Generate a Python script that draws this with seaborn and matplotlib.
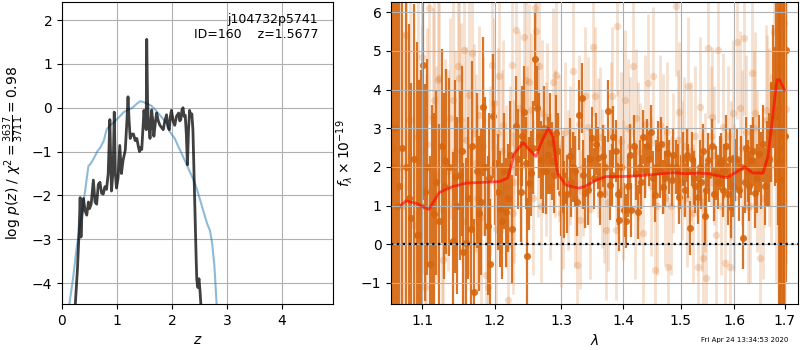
import numpy as np
import pandas as pd
import matplotlib
matplotlib.use('Agg')
import matplotlib.pyplot as plt
import seaborn as sns
from matplotlib.ticker import FixedLocator, FixedFormatter, NullLocator

# -----------------------------
# p(z) panel data
# -----------------------------
z_fit = [0.236, 0.28, 0.31, 0.33, 0.345, 0.36, 0.39, 0.42, 0.45, 0.48, 0.50, 0.53,
         0.57, 0.60, 0.63, 0.66, 0.69, 0.72, 0.75, 0.78, 0.81, 0.84, 0.87, 0.885,
         0.90, 0.93, 0.95, 0.97, 0.99, 1.02, 1.05, 1.08, 1.11, 1.15, 1.18, 1.20,
         1.22, 1.24, 1.27, 1.30, 1.33, 1.36, 1.39, 1.41, 1.43, 1.45, 1.47, 1.49,
         1.51, 1.53, 1.54, 1.555, 1.57, 1.60, 1.63, 1.65, 1.67, 1.70, 1.72, 1.75,
         1.78, 1.81, 1.84, 1.87, 1.90, 1.93, 1.95, 1.97, 1.99, 2.02, 2.05, 2.08,
         2.12, 2.14, 2.16, 2.18, 2.20, 2.22, 2.24, 2.26, 2.28, 2.30, 2.32, 2.34,
         2.36, 2.38, 2.40, 2.42, 2.44, 2.45, 2.47, 2.49, 2.51, 2.53]
logpz_fit = [-4.6, -3.7, -2.85, -2.05, -2.95, -2.5, -2.07, -2.35, -2.45, -2.15, -2.3, -2.2,
             -1.65, -2.15, -2.2, -1.75, -1.7, -1.95, -1.97, -1.8, -1.86, -1.5, -0.27, -1.2,
             -1.9, -1.4, -0.1, -1.5, -1.83, -1.6, -0.86, -1.5, -1.2, -0.97, -0.3, 0.25,
             -0.3, -0.7, -0.6, -0.6, -0.75, -0.7, -0.9, -1.0, -0.9, -0.95, -0.5, -0.06,
             -0.3, -0.5, 1.56, 0.16, -0.3, -0.7, -0.05, -0.3, -0.65, -0.3, -0.12, -0.3,
             -0.4, -0.45, -0.5, -0.3, -0.16, -0.45, -0.5, -0.2, -0.06, -0.3, -0.4, -0.2,
             -0.12, -0.3, -0.27, -0.05, 0.0, -0.2, -0.17, -0.6, -1.3, -0.5, -0.06, -0.2,
             -0.14, -0.5, -1.5, -2.5, -3.5, -3.92, -4.1, -3.9, -4.2, -4.6]

z_prior = [0.12, 0.20, 0.27, 0.35, 0.42, 0.48, 0.52, 0.58, 0.64, 0.70, 0.76, 0.81,
           0.87, 0.93, 0.99, 1.05, 1.12, 1.20, 1.28, 1.35, 1.42, 1.48, 1.55, 1.62,
           1.70, 1.80, 1.90, 1.96, 2.05, 2.12, 2.17, 2.25, 2.32, 2.39, 2.45, 2.51,
           2.58, 2.64, 2.69, 2.73, 2.77, 2.81, 2.84]
logpz_prior = [-4.6, -3.9, -3.16, -2.5, -1.9, -1.33, -1.28, -1.15, -1.0, -0.9, -0.75, -0.5,
               -0.4, -0.35, -0.27, -0.2, -0.1, -0.05, 0.0, 0.08, 0.15, 0.13, 0.09, 0.05,
               -0.05, -0.2, -0.35, -0.55, -0.7, -0.9, -1.03, -1.25, -1.45, -1.64, -1.85, -2.1,
               -2.4, -2.65, -2.8, -3.1, -3.6, -4.47, -4.9]

z_ticks = [0, 1, 2, 3, 4]
pz_ticks = [-4, -3, -2, -1, 0, 1, 2]

# -----------------------------
# spectrum panel data (dark = primary spectrum, light = second spectrum)
# -----------------------------
wave_a = [1.0625, 1.067, 1.079, 1.086, 1.093, 1.096, 1.101, 1.104, 1.111, 1.116, 1.119, 1.126,
          1.132, 1.141, 1.144, 1.151, 1.156, 1.160, 1.168, 1.171, 1.178, 1.183, 1.190, 1.194,
          1.198, 1.205, 1.211, 1.217, 1.226, 1.231, 1.238, 1.243, 1.248, 1.251, 1.254, 1.259,
          1.263, 1.269, 1.277, 1.282, 1.285, 1.292, 1.299, 1.305, 1.313, 1.318, 1.328, 1.332,
          1.338, 1.349, 1.358, 1.367, 1.375, 1.378, 1.384, 1.394, 1.401, 1.405, 1.414, 1.418,
          1.422, 1.426, 1.434, 1.440, 1.448, 1.454, 1.460, 1.469, 1.476, 1.484, 1.492, 1.498,
          1.511, 1.518, 1.524, 1.532, 1.544, 1.550, 1.558, 1.566, 1.575, 1.585, 1.594, 1.602,
          1.617, 1.623, 1.633, 1.640, 1.648, 1.656, 1.664, 1.676, 1.683, 1.688, 1.693, 1.698,
          1.703]
flux_a = [2.0, 1.0, 2.0, 0.67, 0.24, 0.24, 4.64, 1.34, -0.52, 0.79, 1.6, 2.54,
          2.14, 0.09, 1.75, 1.79, -0.2, 0.03, 2.53, -1.24, 0.8, 3.56, 0.48, -0.52,
          3.32, 1.36, 0.59, 0.82, 0.39, 3.06, 1.36, 3.41, -0.3, 1.58, 1.84, 4.78,
          3.52, 2.18, 1.88, 2.61, 2.15, 2.87, 1.32, 1.15, 2.27, 2.0, 3.34, 3.78,
          1.32, 2.74, 2.22, 2.27, 3.45, 1.53, 2.78, 0.63, 0.89, 0.59, 0.89, 2.53,
          1.84, 0.83, 2.78, 2.53, 2.91, 1.28, 2.48, 1.49, 2.35, 1.66, 2.0, 1.23,
          2.31, 0.41, 1.71, 1.23, 0.72, 2.18, 2.53, 1.84, 2.18, 2.53, 0.97, 1.92,
          0.16, 2.48, 2.18, 1.32, 2.34, 2.6, 2.09, 4.08, 4.08, 2.14, 1.66, 2.8,
          5.03]
err_a = [8.0, 8.0, 4.5, 3.5, 5.0, 4.0, 3.5, 2.8, 2.8, 2.6, 2.4, 2.5,
         2.4, 2.3, 2.5, 2.2, 2.3, 2.2, 2.2, 1.9, 2.0, 1.8, 1.8, 1.7,
         1.6, 1.5, 1.5, 1.4, 1.4, 1.3, 1.3, 1.2, 1.5, 1.2, 1.1, 1.2,
         1.1, 1.0, 1.1, 1.3, 1.0, 1.0, 1.1, 1.0, 1.0, 0.9, 0.9, 0.9,
         0.9, 0.8, 0.8, 0.8, 0.8, 0.9, 0.8, 0.8, 0.7, 0.7, 0.7, 0.8,
         0.7, 0.7, 0.7, 0.7, 0.7, 0.7, 0.7, 0.7, 0.7, 0.7, 0.7, 0.7,
         0.7, 0.7, 0.7, 0.7, 0.7, 0.7, 0.7, 0.7, 0.7, 0.8, 0.8, 0.8,
         0.8, 0.8, 0.9, 0.9, 1.0, 1.0, 1.1, 1.6, 2.5, 4.0, 5.0, 7.0,
         6.0]

wave_a2 = [1.0645, 1.070, 1.074, 1.083, 1.089, 1.098, 1.107, 1.113, 1.122, 1.129, 1.136, 1.147,
           1.154, 1.163, 1.166, 1.175, 1.181, 1.186, 1.192, 1.201, 1.208, 1.214, 1.220, 1.223,
           1.234, 1.240, 1.246, 1.257, 1.266, 1.272, 1.274, 1.279, 1.289, 1.295, 1.302, 1.309,
           1.316, 1.322, 1.325, 1.335, 1.342, 1.345, 1.352, 1.355, 1.362, 1.370, 1.381, 1.388,
           1.391, 1.397, 1.408, 1.411, 1.429, 1.431, 1.437, 1.444, 1.451, 1.457, 1.463, 1.466,
           1.472, 1.479, 1.487, 1.495, 1.501, 1.505, 1.508, 1.514, 1.521, 1.527, 1.535, 1.538,
           1.541, 1.547, 1.553, 1.561, 1.569, 1.572, 1.578, 1.581, 1.588, 1.591, 1.597, 1.606,
           1.609, 1.613, 1.620, 1.626, 1.629, 1.636, 1.644, 1.652, 1.660, 1.668, 1.672, 1.679,
           1.686, 1.691, 1.696, 1.701]
flux_a2 = [3.0, 1.5, 2.5, 1.2, 2.2, 1.0, 2.0, 1.0, 0.6, 1.5, 2.0, 1.0,
           2.4, 1.2, 0.4, 1.9, 1.1, 2.0, 1.7, 2.1, 0.9, 1.9, 1.2, 2.3,
           2.2, 2.8, 2.1, 2.5, 2.8, 1.9, 3.0, 2.3, 1.8, 2.4, 1.8, 1.3,
           1.6, 1.9, 1.1, 1.8, 1.4, 2.2, 1.7, 2.6, 1.3, 2.0, 1.8, 2.4,
           1.3, 2.0, 1.5, 2.3, 2.0, 1.6, 1.9, 2.2, 1.7, 2.0, 1.9, 2.6,
           1.7, 2.0, 2.3, 1.9, 1.6, 2.2, 1.4, 1.9, 2.2, 1.5, 2.0, 1.6,
           2.4, 1.4, 1.8, 1.3, 1.6, 2.1, 1.4, 1.9, 1.3, 2.2, 1.5, 2.2,
           1.4, 2.0, 1.6, 1.9, 1.5, 2.4, 1.7, 1.9, 1.5, 2.2, 2.9, 3.3,
           3.5, 2.5, 3.0, 2.8]
err_a2 = [8.0, 7.0, 6.0, 4.5, 4.0, 3.5, 2.8, 2.6, 2.5, 2.4, 2.3, 2.3,
          2.2, 2.1, 2.1, 2.0, 1.9, 1.8, 1.7, 1.6, 1.5, 1.5, 1.4, 1.4,
          1.3, 1.3, 1.2, 1.2, 1.1, 1.1, 1.1, 1.0, 1.0, 1.0, 1.0, 1.0,
          0.9, 0.9, 0.9, 0.9, 0.9, 0.8, 0.8, 0.8, 0.8, 0.8, 0.8, 0.8,
          0.8, 0.8, 0.8, 0.8, 0.7, 0.7, 0.7, 0.7, 0.7, 0.7, 0.7, 0.7,
          0.7, 0.7, 0.7, 0.7, 0.7, 0.7, 0.7, 0.7, 0.7, 0.7, 0.7, 0.7,
          0.7, 0.7, 0.7, 0.7, 0.7, 0.7, 0.7, 0.7, 0.8, 0.8, 0.8, 0.8,
          0.8, 0.8, 0.8, 0.8, 0.9, 0.9, 0.9, 1.0, 1.0, 1.2, 1.3, 1.8,
          3.0, 5.0, 6.0, 6.5]

wave_b = [1.079, 1.094, 1.0965, 1.0996, 1.100, 1.104, 1.109, 1.114, 1.1155, 1.121, 1.123, 1.128,
          1.131, 1.137, 1.141, 1.148, 1.150, 1.153, 1.157, 1.159, 1.164, 1.168, 1.171, 1.178,
          1.183, 1.187, 1.190, 1.196, 1.199, 1.205, 1.207, 1.212, 1.216, 1.219, 1.225, 1.229,
          1.231, 1.236, 1.243, 1.246, 1.250, 1.254, 1.259, 1.261, 1.266, 1.271, 1.282, 1.287,
          1.292, 1.297, 1.302, 1.310, 1.318, 1.324, 1.330, 1.337, 1.342, 1.350, 1.353, 1.361,
          1.368, 1.372, 1.382, 1.388, 1.390, 1.397, 1.403, 1.411, 1.417, 1.422, 1.428, 1.434,
          1.442, 1.451, 1.455, 1.463, 1.472, 1.478, 1.492, 1.498, 1.507, 1.514, 1.523, 1.532,
          1.536, 1.541, 1.547, 1.550, 1.558, 1.565, 1.569, 1.578, 1.583, 1.591, 1.597, 1.605,
          1.610, 1.619, 1.626, 1.634, 1.641, 1.651, 1.661, 1.668, 1.677, 1.687, 1.699,
          1.105, 1.135, 1.175, 1.222, 1.248, 1.276, 1.306, 1.335, 1.365, 1.392, 1.425, 1.447,
          1.468, 1.487, 1.503, 1.519, 1.545, 1.562, 1.593, 1.615, 1.645, 1.672]
flux_b = [5.41, 2.78, 0.8, 2.44, 4.85, -1.1, 6.1, 3.3, 3.73, 4.25, 4.29, -0.4,
          2.18, 3.26, 3.73, 4.6, 4.29, 3.22, 5.03, 2.7, 3.86, 4.94, 2.87, 3.34,
          2.53, -0.79, -1.1, 4.64, 3.65, 2.87, 4.34, 3.09, 1.49, -1.44, 4.64, 1.62,
          5.54, 3.52, 5.37, 4.25, 4.2, 3.47, 6.1, 5.5, 4.6, 3.39, 1.49, 4.2,
          4.38, 2.48, 1.15, 1.66, 4.47, -0.53, 0.63, 3.82, 3.04, 5.11, 3.82, 2.78,
          1.32, 0.37, 3.82, 0.37, 5.63, 2.66, 3.73, 2.53, 4.6, 3.26, 1.84, 0.28,
          4.16, 4.34, -0.66, 3.09, 1.23, -0.58, 6.15, 3.43, 2.53, 4.08, 0.8, -0.58,
          3.56, -0.36, -0.88, 5.07, 3.3, 0.24, 5.03, 3.04, -0.49, -0.58, 3.39, 5.24,
          3.52, 5.33, 0.97, 4.42, 3.39, -0.36, 3.47, 2.78, 5.48, 4.55, 5.72,
          1.4, 1.9, 1.2, 2.0, 2.6, 2.2, 2.9, 2.0, 1.7, 2.2, 2.4, 1.5,
          2.6, 2.1, 1.9, 2.4, 1.6, 2.3, 1.9, 2.5, 1.9, 2.2]
err_b = [4.0, 3.5, 3.5, 3.2, 3.0, 3.0, 3.0, 2.8, 2.8, 2.8, 2.7, 2.7,
         2.6, 2.6, 2.6, 2.5, 2.5, 2.5, 2.4, 2.4, 2.4, 2.4, 2.3, 2.3,
         2.3, 2.3, 2.3, 2.2, 2.2, 2.2, 2.2, 2.2, 2.1, 2.1, 2.1, 2.1,
         2.1, 2.0, 2.0, 2.0, 2.0, 2.0, 2.0, 2.0, 1.9, 1.9, 1.9, 1.9,
         1.9, 1.9, 1.8, 1.8, 1.8, 1.8, 1.8, 1.8, 1.8, 1.8, 1.8, 1.8,
         1.8, 1.8, 1.8, 1.8, 1.8, 1.8, 1.8, 1.8, 1.8, 1.8, 1.8, 1.8,
         1.8, 1.8, 1.8, 1.8, 1.8, 1.8, 1.8, 1.8, 1.8, 1.8, 1.8, 1.8,
         1.8, 1.8, 1.8, 1.8, 1.8, 1.8, 1.9, 1.9, 1.9, 1.9, 1.9, 2.0,
         2.0, 2.0, 2.0, 2.1, 2.1, 2.1, 2.2, 2.3, 3.0, 3.5, 4.0,
         3.0, 2.6, 2.4, 2.1, 2.0, 2.0, 1.8, 1.8, 1.8, 1.8, 1.8, 1.8,
         1.8, 1.8, 1.8, 1.8, 1.8, 1.8, 1.8, 2.0, 2.1, 2.2]

wave_b2 = [1.062, 1.066, 1.071, 1.075, 1.084, 1.089, 1.107, 1.118, 1.126, 1.144, 1.155, 1.162,
           1.173, 1.181, 1.193, 1.202, 1.210, 1.227, 1.239, 1.256, 1.264, 1.268, 1.278, 1.290,
           1.300, 1.314, 1.321, 1.328, 1.345, 1.358, 1.375, 1.380, 1.400, 1.408, 1.420, 1.437,
           1.459, 1.476, 1.483, 1.495, 1.511, 1.527, 1.539, 1.555, 1.574, 1.587, 1.600, 1.622,
           1.630, 1.638, 1.655, 1.664, 1.681, 1.690, 1.695, 1.702]
flux_b2 = [2.5, 3.0, 2.0, 1.0, 3.2, 0.5, 2.6, 1.8, 0.9, 2.4, 0.6, 1.6,
           2.1, 0.7, 1.9, 0.4, 2.4, 0.8, 2.0, 1.2, 2.7, 1.0, 3.3, 2.6,
           0.8, 2.3, 1.2, 3.1, 0.9, 2.5, 1.1, 2.9, 1.4, 3.0, 0.9, 3.1,
           1.0, 2.9, 1.0, 2.7, 1.2, 2.8, 1.1, 2.8, 1.0, 2.8, 1.2, 2.9,
           1.0, 3.0, 1.2, 3.2, 2.0, 3.0, 1.0, 3.5]
err_b2 = [5.0, 5.0, 5.0, 4.5, 4.0, 3.5, 3.0, 2.8, 2.7, 2.6, 2.5, 2.4,
          2.3, 2.3, 2.2, 2.2, 2.1, 2.1, 2.0, 2.0, 2.0, 2.0, 1.9, 1.9,
          1.9, 1.8, 1.8, 1.8, 1.8, 1.8, 1.8, 1.8, 1.8, 1.8, 1.8, 1.8,
          1.8, 1.8, 1.8, 1.8, 1.8, 1.8, 1.8, 1.8, 1.8, 1.8, 1.9, 2.0,
          2.0, 2.0, 2.1, 2.2, 3.0, 3.5, 4.0, 4.0]

wave_model = [1.073, 1.079, 1.092, 1.109, 1.123, 1.141, 1.160, 1.183, 1.207, 1.219, 1.229, 1.242,
              1.249, 1.261, 1.271, 1.280, 1.287, 1.294, 1.307, 1.327, 1.337, 1.356, 1.372, 1.400,
              1.428, 1.457, 1.487, 1.510, 1.534, 1.553, 1.585, 1.601, 1.620, 1.636, 1.656, 1.666,
              1.676, 1.684, 1.689, 1.699]
flux_model = [1.02, 1.12, 1.06, 0.9, 1.34, 1.49, 1.58, 1.6, 1.62, 1.71, 2.35, 2.63,
              2.48, 2.27, 2.7, 3.0, 2.78, 1.84, 1.53, 1.45, 1.49, 1.66, 1.75, 1.75,
              1.77, 1.81, 1.85, 1.82, 1.84, 1.82, 1.72, 1.84, 2.0, 1.84, 1.84, 2.27,
              3.39, 4.25, 4.25, 3.99]

wave_ticks = [1.1, 1.2, 1.3, 1.4, 1.5, 1.6, 1.7]
wave_labels = ['1.1', '1.2', '1.3', '1.4', '1.5', '1.6', '1.7']
flux_ticks = [-1, 0, 1, 2, 3, 4, 5, 6]

pz_fit = pd.DataFrame({'z': z_fit, 'logpz': logpz_fit})
pz_prior = pd.DataFrame({'z': z_prior, 'logpz': logpz_prior})
spec_a = pd.DataFrame({'wave': wave_a + wave_a2, 'flux': flux_a + flux_a2, 'err': err_a + err_a2})
spec_b = pd.DataFrame({'wave': wave_b + wave_b2, 'flux': flux_b + flux_b2, 'err': err_b + err_b2})
model = pd.DataFrame({'wave': wave_model, 'flux': flux_model})

orange = '#d6660f'

fig = plt.figure(figsize=(8, 3.5), dpi=100)
ax1 = fig.add_axes([0.0775, 0.131, 0.339, 0.863])
ax2 = fig.add_axes([0.489, 0.131, 0.5085, 0.863])

# -----------------------------
# left: log p(z)
# -----------------------------
sns.lineplot(data=pz_prior, x='z', y='logpz', ax=ax1, sort=False,
             color='#1f77b4', alpha=0.5, linewidth=1.5)
sns.lineplot(data=pz_fit, x='z', y='logpz', ax=ax1, sort=False,
             color='k', alpha=0.75, linewidth=2)
ax1.set_xlim(0, 4.93)
ax1.set_ylim(-4.48, 2.41)
ax1.set_xticks(z_ticks)
ax1.set_yticks(pz_ticks)
ax1.grid(True)
ax1.set_xlabel('$z$')
ax1.set_ylabel(r'$\log\,p(z)$ / $\chi^2=\frac{3637}{3711}=0.98$')
ax1.text(0.945, 0.965, 'j104732p5741\nID=160    z=1.5677', transform=ax1.transAxes,
         ha='right', va='top', multialignment='right', fontsize=9)

# -----------------------------
# right: spectrum
# -----------------------------
ax2.set_xscale('log')
ax2.errorbar(spec_b['wave'], spec_b['flux'], yerr=spec_b['err'], fmt='none',
             ecolor=orange, elinewidth=2.0, alpha=0.2, zorder=1)
sns.scatterplot(data=spec_b, x='wave', y='flux', ax=ax2, color=orange,
                alpha=0.22, s=28, linewidth=0, zorder=1)
ax2.errorbar(spec_a['wave'], spec_a['flux'], yerr=spec_a['err'], fmt='none',
             ecolor=orange, elinewidth=1.6, alpha=0.9, zorder=2)
sns.scatterplot(data=spec_a, x='wave', y='flux', ax=ax2, color=orange,
                alpha=0.9, s=26, linewidth=0, zorder=2)
sns.lineplot(data=model, x='wave', y='flux', ax=ax2, sort=False,
             color='red', alpha=0.6, linewidth=2, zorder=3)
ax2.axhline(0, color='k', linestyle=':', linewidth=1.6, zorder=4)

ax2.set_xlim(1.060, 1.727)
ax2.set_ylim(-1.55, 6.26)
ax2.xaxis.set_major_locator(FixedLocator(wave_ticks))
ax2.xaxis.set_major_formatter(FixedFormatter(wave_labels))
ax2.xaxis.set_minor_locator(NullLocator())
ax2.set_yticks(flux_ticks)
ax2.set_axisbelow(False)
ax2.grid(True)
ax2.set_xlabel(r'$\lambda$')
ax2.set_ylabel(r'$f_\lambda\times10^{-19}$')

fig.text(0.985, 0.02, 'Fri Apr 24 13:34:53 2020', ha='right', va='bottom', fontsize=5)

fig.savefig('out.png', dpi=100)
